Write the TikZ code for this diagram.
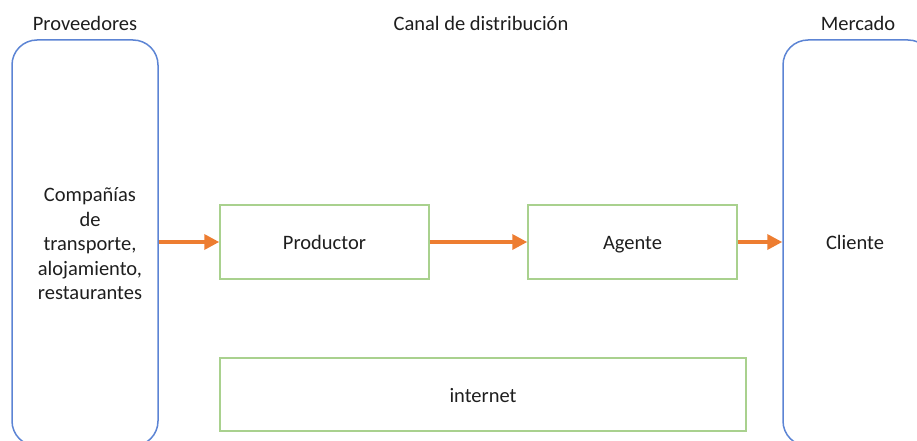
\documentclass[tikz,border=0pt]{standalone}
\usepackage{fontspec}
\setmainfont{Carlito}
\usetikzlibrary{arrows.meta}

\definecolor{azul}{RGB}{92,132,212}
\definecolor{verde}{RGB}{169,209,142}
\definecolor{naranja}{RGB}{237,125,49}
\definecolor{texto}{RGB}{30,30,30}

\tikzset{
  bloque/.style={draw=azul, line width=1.5pt, rounded corners=25pt, minimum width=146pt, minimum height=406pt},
  caja/.style={draw=verde, line width=1.5pt, minimum height=74pt, text height=17pt, text depth=2pt},
  flecha/.style={naranja, line width=3.5pt, -{Triangle[length=15pt,width=15pt]}},
  etiqueta/.style={text=texto, font=\fontsize{20.5}{24.5}\selectfont}
}

\begin{document}
\begin{tikzpicture}[x=1pt, y=1pt]
\useasboundingbox (0,0) rectangle (917,440);
\clip (0,0) rectangle (917,440);
% columnas de los extremos
\node[bloque] (prov) at (85,197) {};
\node[bloque, minimum width=150pt] (merc) at (858,197) {};
% cabeceras
\node[etiqueta] (tprov) at (85,417) {Proveedores};
\node[etiqueta] (tcanal) at (481,417) {Canal de distribución};
\node[etiqueta] (tmerc) at (858,417) {Mercado};
% textos de las columnas
\node[etiqueta, align=center] (comp) at (90,196) {Compañías\\de\\transporte,\\alojamiento,\\restaurantes};
\node[etiqueta, text height=17pt, text depth=2pt] (cli) at (855,198) {Cliente};
% canal
\node[caja, etiqueta, minimum width=209pt] (prod) at (324.5,198) {Productor};
\node[caja, etiqueta, minimum width=209pt] (agente) at (632.5,198) {Agente};
\node[caja, etiqueta, minimum width=526pt, minimum height=73pt] (inter) at (483,45.5) {internet};
% flechas
\draw[flecha] (prov.east |- prod.west) -- (prod.west);
\draw[flecha] (prod.east) -- (agente.west);
\draw[flecha] (agente.east) -- (merc.west |- agente.east);
\end{tikzpicture}
\end{document}
